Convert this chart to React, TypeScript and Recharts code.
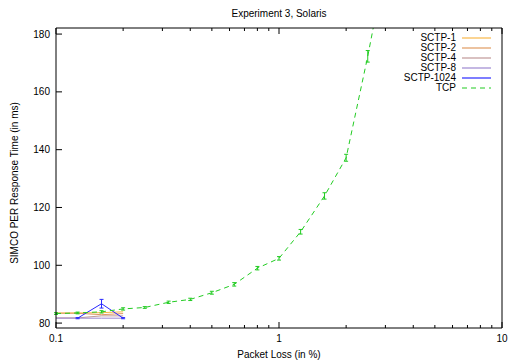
import React from "react"
import { LineChart, Line, XAxis, YAxis, ErrorBar, Legend, Label } from "recharts"

// packet loss (%) / response time (ms) / error
const tcpLoss = [0.1, 0.125, 0.16, 0.2, 0.25, 0.32, 0.4, 0.5, 0.63, 0.8, 1, 1.25, 1.6, 2, 2.5, 3.2]
const tcpTime = [83.3, 83.5, 83.9, 84.9, 85.4, 87.2, 88.2, 90.5, 93.4, 99.0, 102.4, 111.6, 124.0, 137.2, 172.3, 215]
const tcpErr = [0.3, 0.3, 0.4, 0.4, 0.3, 0.4, 0.4, 0.5, 0.6, 0.6, 0.6, 0.8, 1.1, 1.2, 2.0, 3]

const sctp1Loss = [0.1, 0.125, 0.16, 0.2]
const sctp1Time = [83.5, 83.5, 83.6, 83.9]
const sctp2Loss = [0.1, 0.125, 0.16, 0.2]
const sctp2Time = [83.4, 83.4, 82.9, 83.3]
const sctp4Loss = [0.1, 0.125, 0.16, 0.2]
const sctp4Time = [81.8, 81.8, 82.5, 82.5]
const sctp8Loss = [0.1, 0.125, 0.16, 0.2]
const sctp8Time = [81.7, 81.7, 81.7, 81.7]
const sctp1024Loss = [0.125, 0.16, 0.2]
const sctp1024Time = [81.7, 86.7, 81.7]
const sctp1024Err = [0.2, 1.5, 0.2]

const xMajor = [0.1, 1, 10]
const xMinor = [0.2, 0.3, 0.4, 0.5, 0.6, 0.7, 0.8, 0.9, 2, 3, 4, 5, 6, 7, 8, 9]
const xTicks = [...xMajor, ...xMinor].sort((a, b) => a - b)
const yTicks = [80, 100, 120, 140, 160, 180]

const rows = (xs: number[], ys: number[], es?: number[]) =>
	xs.map((x, i) => ({ loss: x, time: ys[i], err: es ? es[i] : 0 }))

const series = [
	{ name: "SCTP-1", color: "#f8b848", data: rows(sctp1Loss, sctp1Time), dash: undefined, err: false },
	{ name: "SCTP-2", color: "#e09a60", data: rows(sctp2Loss, sctp2Time), dash: undefined, err: false },
	{ name: "SCTP-4", color: "#c09898", data: rows(sctp4Loss, sctp4Time), dash: undefined, err: false },
	{ name: "SCTP-8", color: "#9c88d0", data: rows(sctp8Loss, sctp8Time), dash: undefined, err: false },
	{ name: "SCTP-1024", color: "#2828ff", data: rows(sctp1024Loss, sctp1024Time, sctp1024Err), dash: undefined, err: true },
	{ name: "TCP", color: "#22cc22", data: rows(tcpLoss, tcpTime, tcpErr), dash: "5 4", err: true },
]

const font = "'Liberation Sans', Arial, sans-serif"
const tickFont = { fontSize: 10, fill: "#000", fontFamily: font }
const xDomain = [0.1, 10]
const yDomain = [78.3, 182.1]

// gnuplot style ticks: inward, long for decades, short in between
const LogTick = (props: any) => {
	const { x, y, payload, side } = props
	const major = xMajor.includes(payload.value)
	const len = major ? 6 : 3
	const dir = side === "top" ? 1 : -1
	return (
		<g>
			<line x1={x} x2={x} y1={y} y2={y + dir * len} stroke='#000' />
			{side === "bottom" && major && (
				<text x={x} y={y + 14} textAnchor='middle' {...tickFont}>
					{payload.value}
				</text>
			)}
		</g>
	)
}

const KeyBox = () => (
	<div style={{ fontFamily: font, fontSize: 10, lineHeight: "10px", color: "#000" }}>
		{series.map((s) => (
			<div key={s.name} style={{ display: "flex", alignItems: "center", height: 10 }}>
				<span style={{ width: 80, textAlign: "right" }}>{s.name}</span>
				<svg width={36} height={10} style={{ marginLeft: 6 }}>
					<line x1={0} x2={29} y1={5} y2={5} stroke={s.color} strokeWidth={1.2} strokeDasharray={s.dash} />
				</svg>
			</div>
		))}
	</div>
)

export default function App() {
	return (
		<div style={{ position: "absolute", left: 0, top: 0 }}>
			<LineChart
				width={508}
				height={363}
				margin={{ top: 27, right: 5, bottom: 0, left: 0 }}
				style={{ fontFamily: font }}>
				<XAxis
					xAxisId='x'
					orientation='bottom'
					dataKey='loss'
					type='number'
					scale='log'
					domain={xDomain}
					allowDataOverflow
					ticks={xTicks}
					interval={0}
					tick={<LogTick side='bottom' />}
					tickSize={0}
					tickMargin={0}
					tickLine={false}
					axisLine={{ stroke: "#000" }}
					height={35}>
					<Label value='Packet Loss (in %)' position='insideBottom' offset={5} style={{ fontSize: 10, fill: "#000" }} />
				</XAxis>
				<XAxis
					xAxisId='top'
					orientation='top'
					dataKey='loss'
					type='number'
					scale='log'
					domain={xDomain}
					allowDataOverflow
					ticks={xTicks}
					interval={0}
					tick={<LogTick side='top' />}
					tickSize={0}
					tickMargin={0}
					tickLine={false}
					axisLine={{ stroke: "#000" }}
					height={1}>
					<Label value='Experiment 3, Solaris' position='top' offset={10} style={{ fontSize: 10, fill: "#000" }} />
				</XAxis>
				<YAxis
					yAxisId='y'
					type='number'
					domain={yDomain}
					allowDataOverflow
					ticks={yTicks}
					tick={tickFont}
					tickSize={-6}
					tickMargin={12}
					axisLine={{ stroke: "#000" }}
					tickLine={{ stroke: "#000" }}
					width={56}>
					<Label
						value='SIMCO PER Response Time (in ms)'
						angle={-90}
						position='insideLeft'
						offset={14}
						dy={5}
						style={{ fontSize: 10, fill: "#000", textAnchor: "middle" }}
					/>
				</YAxis>
				<YAxis
					yAxisId='right'
					orientation='right'
					type='number'
					domain={yDomain}
					allowDataOverflow
					ticks={yTicks}
					tick={false}
					tickSize={-6}
					axisLine={{ stroke: "#000" }}
					tickLine={{ stroke: "#000" }}
					width={1}
				/>
				{series.map((s) => (
					<Line
						key={s.name}
						name={s.name}
						data={s.data}
						xAxisId='x'
						yAxisId='y'
						dataKey='time'
						type='linear'
						stroke={s.color}
						strokeWidth={1}
						strokeDasharray={s.dash}
						dot={false}
						isAnimationActive={false}>
						{s.err && <ErrorBar dataKey='err' direction='y' width={2} stroke={s.color} strokeWidth={1} isAnimationActive={false} />}
					</Line>
				))}
				<Legend
					layout='vertical'
					align='center'
					verticalAlign='middle'
					content={() => <KeyBox />}
					wrapperStyle={{ top: 33, left: 376, width: 130 }}
				/>
			</LineChart>
		</div>
	)
}
